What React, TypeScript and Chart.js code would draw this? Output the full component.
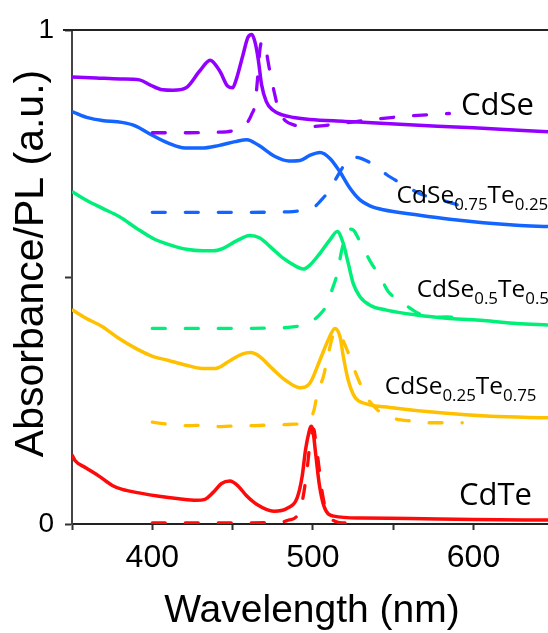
import React, { useEffect, useRef } from 'react';
import { Chart, registerables } from 'chart.js';

Chart.register(...registerables);

// ---- tick definitions ----
const xTickValues = [350, 400, 450, 500, 550, 600];
const xTickLabels = ['', '400', '', '500', '', '600'];
const yTickValues = [0, 0.5, 1];
const yTickLabels = ['0', '', '1'];

// ---- CdSe ----
const cdseAbsWl = [350, 365, 380, 392, 398.5, 406.5, 413, 421, 429.5, 436, 442, 447, 450, 452, 456.5, 459.5, 462, 464, 466, 468, 471, 475, 481, 488, 498, 520, 554, 600, 646.4];
const cdseAbsVal = [0.905, 0.903, 0.901, 0.899, 0.889, 0.879, 0.878, 0.883, 0.917, 0.939, 0.917, 0.886, 0.883, 0.897, 0.95, 0.985, 0.991, 0.975, 0.94, 0.89, 0.855, 0.838, 0.828, 0.823, 0.819, 0.815, 0.809, 0.802, 0.794];
const cdsePlWl = [400, 420, 440, 450, 455, 459, 462, 464, 465.5, 467, 468.5, 470, 473, 476, 479, 483, 488, 495, 505, 520, 540, 560, 585];
const cdsePlVal = [0.792, 0.792, 0.793, 0.796, 0.803, 0.812, 0.83, 0.85, 0.9, 0.96, 0.978, 0.971, 0.92, 0.873, 0.835, 0.816, 0.808, 0.804, 0.806, 0.812, 0.82, 0.826, 0.831];

// ---- CdSe0.75Te0.25 ----
const se75AbsWl = [350, 360.4, 368.7, 381, 389.4, 397.7, 410, 420.5, 430.8, 441.2, 451.6, 458.9, 466, 476.4, 485, 492, 498, 504.4, 510.6, 516.8, 523, 529.3, 535.5, 543.8, 564.6, 585.3, 606.1, 626.9, 646.4];
const se75AbsVal = [0.835, 0.822, 0.817, 0.813, 0.806, 0.791, 0.771, 0.761, 0.761, 0.766, 0.774, 0.778, 0.767, 0.744, 0.735, 0.736, 0.746, 0.752, 0.74, 0.713, 0.68, 0.656, 0.644, 0.636, 0.626, 0.617, 0.61, 0.605, 0.602];
const se75PlWl = [400, 430, 460, 485, 492, 497, 501, 505, 509, 514, 519, 524, 529, 533, 537, 546, 553, 560, 567, 575, 583, 594];
const se75PlVal = [0.631, 0.631, 0.631, 0.632, 0.634, 0.637, 0.642, 0.655, 0.67, 0.697, 0.724, 0.743, 0.741, 0.736, 0.729, 0.707, 0.693, 0.68, 0.668, 0.66, 0.653, 0.642];

// ---- CdSe0.5Te0.5 ----
const se50AbsWl = [350, 358.7, 369, 379.6, 390, 400.5, 410.9, 421.3, 431.6, 437.9, 444.1, 452.4, 460.7, 467, 473.2, 481.5, 489.8, 494, 498.1, 504.4, 510.6, 515.2, 518.9, 522, 525.1, 529.3, 535.5, 545.9, 564.6, 585.3, 606.1, 626.9, 646.4];
const se50AbsVal = [0.673, 0.656, 0.639, 0.622, 0.599, 0.578, 0.565, 0.556, 0.553, 0.553, 0.558, 0.573, 0.584, 0.579, 0.562, 0.538, 0.521, 0.516, 0.524, 0.548, 0.575, 0.592, 0.568, 0.528, 0.487, 0.46, 0.443, 0.433, 0.423, 0.416, 0.412, 0.406, 0.403];
const se50PlWl = [400, 440, 480, 490, 496, 500, 504, 508, 512, 515, 518, 520, 522.5, 525.5, 528, 532, 536, 542, 547, 554, 560, 566, 574, 583, 594];
const se50PlVal = [0.396, 0.396, 0.397, 0.4, 0.405, 0.412, 0.423, 0.44, 0.475, 0.505, 0.555, 0.58, 0.597, 0.594, 0.58, 0.555, 0.53, 0.5, 0.47, 0.453, 0.438, 0.426, 0.418, 0.419, 0.416];

// ---- CdSe0.25Te0.75 ----
const se25AbsWl = [350, 358.4, 368.7, 379.1, 389.4, 399.8, 410.2, 420.6, 431.1, 439.3, 447.6, 455.9, 461.2, 466.4, 474.6, 482.9, 491.9, 498.1, 504.4, 509.6, 513.7, 516.9, 519, 522, 526.1, 533.4, 548, 579.5, 610.7, 646.4];
const se25AbsVal = [0.434, 0.417, 0.4, 0.376, 0.356, 0.34, 0.331, 0.322, 0.315, 0.315, 0.329, 0.344, 0.347, 0.34, 0.315, 0.291, 0.276, 0.285, 0.332, 0.373, 0.396, 0.379, 0.338, 0.291, 0.257, 0.243, 0.236, 0.225, 0.218, 0.215];
const se25PlWl = [400, 412, 422, 433, 443, 454, 464, 476, 482, 488, 493, 497, 500.5, 503, 506.5, 510, 513, 516, 519, 523, 526, 529.3, 533.4, 541.7, 550, 563, 571, 583, 593];
const se25PlVal = [0.206, 0.201, 0.199, 0.2, 0.197, 0.199, 0.199, 0.201, 0.201, 0.202, 0.204, 0.212, 0.228, 0.268, 0.298, 0.35, 0.385, 0.39, 0.37, 0.338, 0.311, 0.285, 0.257, 0.227, 0.214, 0.208, 0.205, 0.205, 0.205];

// ---- CdTe ----
const cdteAbsWl = [350, 352, 358.5, 366.8, 375.1, 381.3, 391.7, 404.2, 416.6, 427.5, 432.7, 437.9, 443.1, 448.3, 453.4, 458.7, 464.9, 475.7, 484, 490.2, 493.3, 495.4, 497.5, 498.8, 500, 501.8, 504, 507, 513, 530, 560, 600, 646.4];
const cdteAbsVal = [0.14, 0.128, 0.114, 0.097, 0.078, 0.07, 0.063, 0.056, 0.051, 0.048, 0.05, 0.064, 0.082, 0.087, 0.077, 0.057, 0.04, 0.026, 0.032, 0.053, 0.096, 0.15, 0.185, 0.198, 0.19, 0.14, 0.08, 0.035, 0.016, 0.012, 0.011, 0.009, 0.008];
const cdtePlWl = [400, 440, 480, 485, 490, 493, 496, 498.5, 500.5, 502, 504, 506, 508, 511, 515, 520];
const cdtePlVal = [0.002, 0.002, 0.004, 0.008, 0.016, 0.04, 0.1, 0.17, 0.192, 0.16, 0.11, 0.06, 0.03, 0.012, 0.004, 0.002];

// ---- sample labels (text parts: [text, isSubscript]) ----
const sampleLabels: [string, boolean][][] = [
  [['CdSe', false]],
  [['CdSe', false], ['0.75', true], ['Te', false], ['0.25', true]],
  [['CdSe', false], ['0.5', true], ['Te', false], ['0.5', true]],
  [['CdSe', false], ['0.25', true], ['Te', false], ['0.75', true]],
  [['CdTe', false]],
];

const colors = ['#9400ff', '#1464ff', '#00ef78', '#ffc000', '#ff0a0a'];
const labelAnchorWl = [592.2, 552.1, 564.6, 544.8, 591];
const labelAnchorVal = [0.828, 0.65, 0.46, 0.264, 0.039];
const labelFontSize = [31, 24.5, 24.5, 24.5, 31];

const zip = (xs: number[], ys: number[]) => xs.map((x, i) => ({ x, y: ys[i] }));

const absSeries = [
  zip(cdseAbsWl, cdseAbsVal),
  zip(se75AbsWl, se75AbsVal),
  zip(se50AbsWl, se50AbsVal),
  zip(se25AbsWl, se25AbsVal),
  zip(cdteAbsWl, cdteAbsVal),
];
const plSeries = [
  zip(cdsePlWl, cdsePlVal),
  zip(se75PlWl, se75PlVal),
  zip(se50PlWl, se50PlVal),
  zip(se25PlWl, se25PlVal),
  zip(cdtePlWl, cdtePlVal),
];

const annotationPlugin = {
  id: 'annotations',
  afterDraw(chart: any) {
    const { ctx, chartArea } = chart;
    const xs = chart.scales.x;
    const ys = chart.scales.y;
    ctx.save();
    // top frame line
    ctx.strokeStyle = '#222';
    ctx.lineWidth = 2;
    ctx.beginPath();
    ctx.moveTo(chartArea.left - 9, chartArea.top);
    ctx.lineTo(chartArea.right, chartArea.top);
    ctx.stroke();

    // sample labels
    ctx.fillStyle = '#000';
    ctx.textBaseline = 'alphabetic';
    ctx.textAlign = 'left';
    sampleLabels.forEach((parts, i) => {
      let x = xs.getPixelForValue(labelAnchorWl[i]);
      const y = ys.getPixelForValue(labelAnchorVal[i]);
      const main = labelFontSize[i];
      const sub = main * 0.69;
      parts.forEach(([t, isSub]) => {
        ctx.font = `${isSub ? sub : main}px "Open Sans"`;
        ctx.fillText(t, x, isSub ? y + main * 0.3 : y);
        x += ctx.measureText(t).width;
      });
    });

    // axis titles
    ctx.font = '39px "Liberation Sans", Arial, sans-serif';
    ctx.textAlign = 'center';
    ctx.fillText('Wavelength (nm)', (chartArea.left + chartArea.right) / 2 + 2, 622);
    ctx.save();
    ctx.translate(43, 263.5);
    ctx.rotate(-Math.PI / 2);
    ctx.font = '41px "Liberation Sans", Arial, sans-serif';
    ctx.fillText('Absorbance/PL (a.u.)', 0, 0);
    ctx.restore();
    ctx.restore();
  },
};

export default function App() {
  const canvasRef = useRef<HTMLCanvasElement | null>(null);

  useEffect(() => {
    const canvas = canvasRef.current;
    if (!canvas) return;
    const datasets: any[] = [];
    plSeries.forEach((data, i) => {
      datasets.push({
        data,
        borderColor: colors[i],
        borderWidth: 3.3,
        borderDash: [13, 20],
        borderCapStyle: 'round',
        pointRadius: 0,
        fill: false,
        cubicInterpolationMode: 'monotone',
      });
    });
    absSeries.forEach((data, i) => {
      datasets.push({
        data,
        borderColor: colors[i],
        borderWidth: 3.5,
        pointRadius: 0,
        fill: false,
        cubicInterpolationMode: 'monotone',
      });
    });

    const chart = new Chart(canvas, {
      type: 'line',
      data: { datasets },
      options: {
        animation: false,
        responsive: false,
        devicePixelRatio: 1,
        layout: { padding: { top: 30, right: 0, left: 0, bottom: 0 } },
        plugins: { legend: { display: false }, tooltip: { enabled: false } },
        scales: {
          x: {
            type: 'linear',
            min: 350,
            max: 646.4,
            afterBuildTicks: (scale: any) => {
              scale.ticks = xTickValues.map((v) => ({ value: v }));
            },
            afterFit: (scale: any) => {
              scale.height = 109;
            },
            ticks: {
              callback: (v: any) => {
                const idx = xTickValues.indexOf(Number(v));
                return idx >= 0 ? xTickLabels[idx] : '';
              },
              font: { family: '"Liberation Sans", Arial, sans-serif', size: 32 },
              color: '#000',
              padding: 9,
              maxRotation: 0,
              autoSkip: false,
            },
            grid: {
              drawOnChartArea: false,
              drawTicks: true,
              tickLength: 6,
              tickWidth: 2,
              tickColor: '#333',
            },
            border: { display: true, color: '#222', width: 2 },
          },
          y: {
            type: 'linear',
            min: 0,
            max: 1,
            afterBuildTicks: (scale: any) => {
              scale.ticks = yTickValues.map((v) => ({ value: v }));
            },
            afterFit: (scale: any) => {
              scale.width = 72;
            },
            ticks: {
              callback: (v: any) => {
                const idx = yTickValues.indexOf(Number(v));
                return idx >= 0 ? yTickLabels[idx] : '';
              },
              font: { family: '"Liberation Sans", Arial, sans-serif', size: 28 },
              color: '#000',
              padding: 11,
              autoSkip: false,
            },
            grid: {
              drawOnChartArea: false,
              drawTicks: true,
              tickLength: 7,
              tickWidth: 2,
              tickColor: '#333',
            },
            border: { display: true, color: '#444', width: 2 },
          },
        },
      },
      plugins: [annotationPlugin],
    });
    return () => chart.destroy();
  }, []);

  return (
    <div style={{ position: 'fixed', left: 0, top: 0, width: 548, height: 633, background: '#fff' }}>
      <canvas ref={canvasRef} width={548} height={633} style={{ width: 548, height: 633, display: 'block' }} />
    </div>
  );
}
